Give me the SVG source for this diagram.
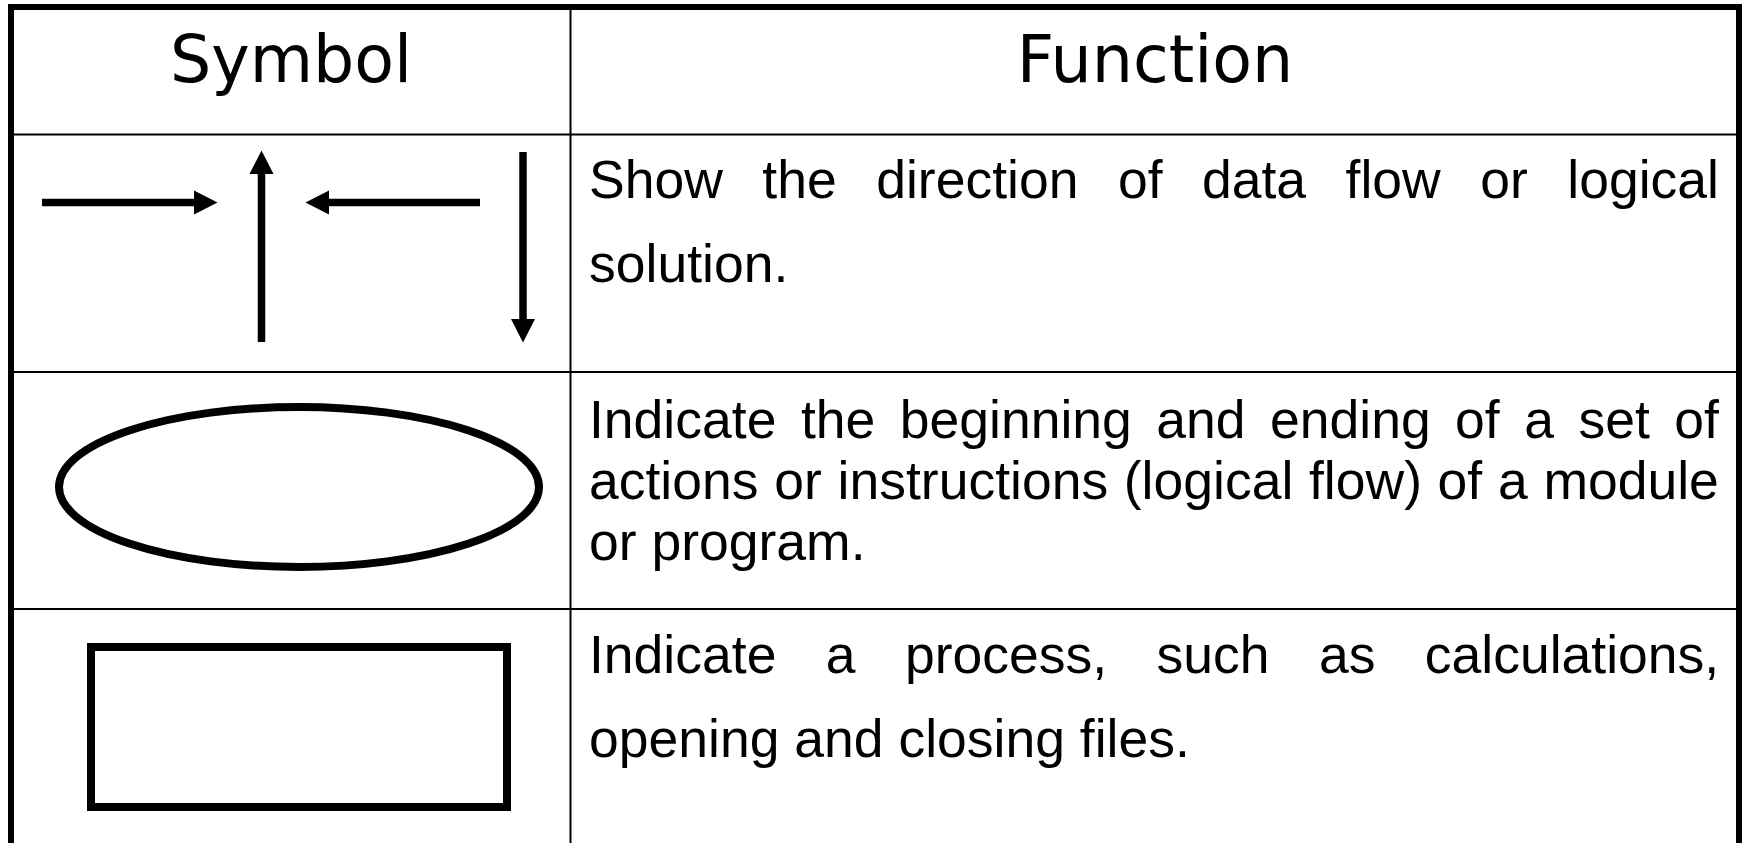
<svg xmlns="http://www.w3.org/2000/svg" width="1743" height="843" viewBox="0 0 1743 843">
  <defs>
    <style>
      .frame { fill: none; stroke: #000; stroke-width: 6; stroke-linejoin: miter; stroke-linecap: square; }
      .rule { fill: none; stroke: #000; stroke-width: 2; }
      .head { font-family: "DejaVu Sans", Verdana, sans-serif; font-size: 65px; fill: #000; text-anchor: middle; }
      .body { font-family: "Liberation Sans", Arial, Helvetica, sans-serif; font-size: 53.5px; fill: #000; }
      .shaft { fill: none; stroke: #000; stroke-width: 7.5; stroke-linecap: butt; }
      .shape { fill: none; stroke: #000; stroke-width: 8; }
    </style>
    <marker id="tip" markerUnits="userSpaceOnUse" markerWidth="24" markerHeight="24" refX="0" refY="12" orient="auto" overflow="visible">
      <path d="M0,0 L23.5,12 L0,24 Z" fill="#000"/>
    </marker>
  </defs>

  <rect width="1743" height="843" fill="#fff"/>

  <!-- table grid -->
  <g id="grid">
    <line class="rule" x1="11" y1="134.5" x2="1739" y2="134.5"/>
    <line class="rule" x1="11" y1="372" x2="1739" y2="372"/>
    <line class="rule" x1="11" y1="609" x2="1739" y2="609"/>
    <line class="rule" x1="570.5" y1="7" x2="570.5" y2="843"/>
    <path class="frame" d="M11,846 V7 H1739 V846"/>
  </g>

  <!-- column headings -->
  <g id="header-symbol">
    <text class="head" x="291" y="82">Symbol</text>
  </g>
  <g id="header-function">
    <text class="head" x="1155" y="82">Function</text>
  </g>

  <!-- row 1: flow lines -->
  <g id="flowlines-symbol">
    <line class="shaft" x1="42" y1="202.5" x2="194" y2="202.5" marker-end="url(#tip)"/>
    <line class="shaft" x1="261.5" y1="342" x2="261.5" y2="174" marker-end="url(#tip)"/>
    <line class="shaft" x1="480" y1="202.5" x2="329" y2="202.5" marker-end="url(#tip)"/>
    <line class="shaft" x1="523" y1="152" x2="523" y2="319" marker-end="url(#tip)"/>
  </g>
  <g id="flowlines-function">
    <text class="body" y="197.5"><tspan x="589">Show</tspan><tspan x="762.3">the</tspan><tspan x="876.2">direction</tspan><tspan x="1117.9">of</tspan><tspan x="1202">data</tspan><tspan x="1345.6">flow</tspan><tspan x="1480.2">or</tspan><tspan x="1567.3">logical</tspan></text>
    <text class="body" x="589" y="281.5">solution.</text>
  </g>

  <!-- row 2: terminal -->
  <g id="terminal-symbol">
    <ellipse class="shape" cx="299" cy="487" rx="240" ry="80"/>
  </g>
  <g id="terminal-function">
    <text class="body" y="438"><tspan x="589">Indicate</tspan><tspan x="800.9">the</tspan><tspan x="899.8">beginning</tspan><tspan x="1156.3">and</tspan><tspan x="1270">ending</tspan><tspan x="1455.1">of</tspan><tspan x="1524.2">a</tspan><tspan x="1578.4">set</tspan><tspan x="1674.3">of</tspan></text>
    <text class="body" y="499"><tspan x="589">actions</tspan><tspan x="774.2">or</tspan><tspan x="837.6">instructions</tspan><tspan x="1123.8">(logical</tspan><tspan x="1309">flow)</tspan><tspan x="1437.6">of</tspan><tspan x="1498">a</tspan><tspan x="1543.4">module</tspan></text>
    <text class="body" x="589" y="560">or program.</text>
  </g>

  <!-- row 3: process -->
  <g id="process-symbol">
    <rect class="shape" x="91" y="647" width="416" height="160"/>
  </g>
  <g id="process-function">
    <text class="body" y="673"><tspan x="589">Indicate</tspan><tspan x="825.8">a</tspan><tspan x="904.9">process,</tspan><tspan x="1156.5">such</tspan><tspan x="1318.9">as</tspan><tspan x="1424.8">calculations,</tspan></text>
    <text class="body" x="589" y="757">opening and closing files.</text>
  </g>
</svg>
